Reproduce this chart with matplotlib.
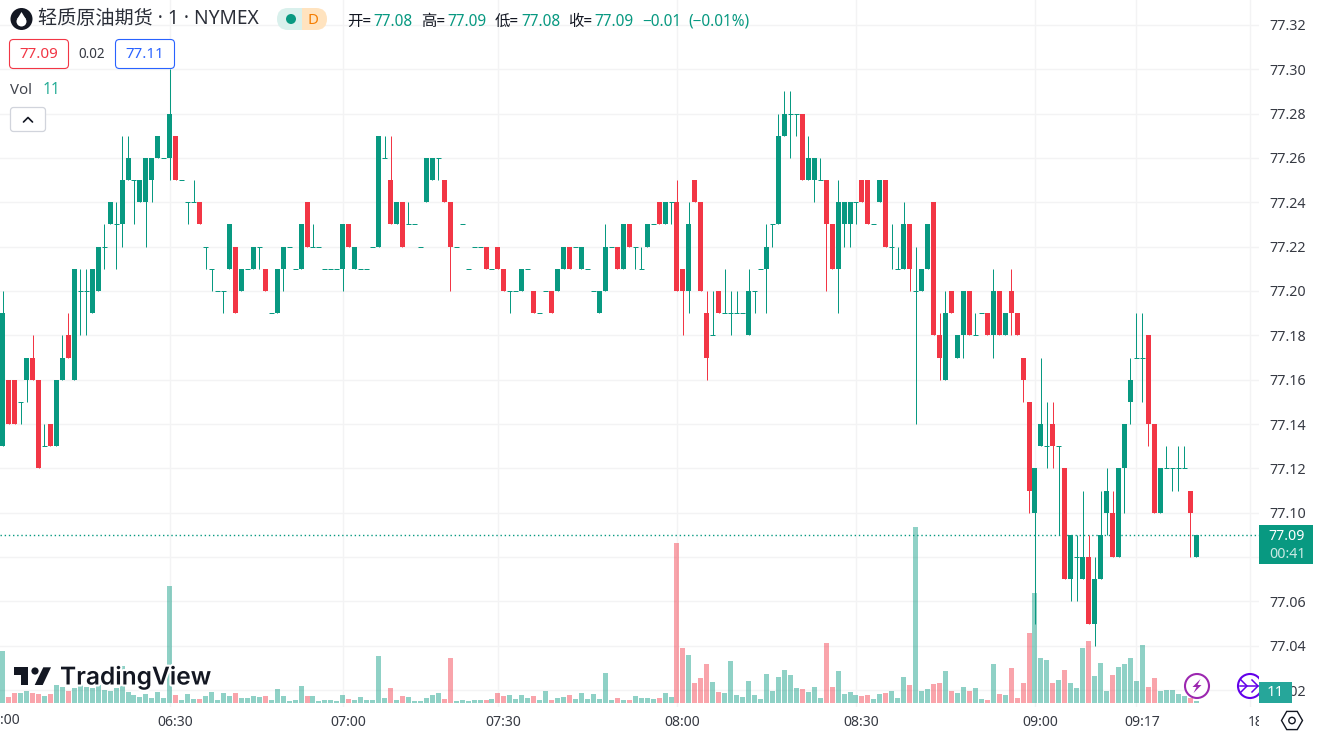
import matplotlib
matplotlib.use("Agg")
import matplotlib.pyplot as plt
import numpy as np
import matplotlib.patheffects as pe
from matplotlib.patches import Circle, FancyBboxPatch, Polygon, Rectangle, RegularPolygon
from matplotlib.transforms import Bbox, TransformedBbox, ScaledTranslation

plt.rcParams['font.family'] = ['Noto Sans', 'Noto Sans CJK SC', 'DejaVu Sans']

# Prices are given in hundredths above 77.00
BASE_PRICE = 77.0
opens_c = [
13,16,16,15,16,17,16,13,14,13, 16,18,16,20,20,19,20,22,23,23,
23,25,25,24,24,25,26,26,26,27, 25,24,24,24,22,21,20,20,21,22,
20,21,21,22,21,19,19,21,22,21, 21,24,22,22,21,21,21,21,23,21,
21,21,22,22,26,25,23,24,23,23, 22,24,25,26,25,24,22,23,21,22,
22,22,21,22,21,20,20,20,21,20, 19,20,20,20,21,22,22,21,21,20,
19,20,22,22,21,23,22,21,22,23, 24,23,24,24,21,20,25,24,19,18,
20,19,19,19,19,18,20,21,21,23, 23,27,28,28,28,25,25,25,25,23,
21,23,23,24,25,25,23,24,25,22, 21,21,23,20,20,21,24,18,16,20,
17,18,20,18,19,19,18,20,18,20, 19,17,15,10,13,13,14,13,12,7,
8,7,8,5,7,10,10,8,12,15, 17,17,18,14,10,12,12,12,12,11, 8]
highs_c = [
20,16,16,15,17,18,16,14,14,16, 18,19,21,21,21,21,22,23,24,24,
27,27,25,25,26,26,27,26,30,27, 25,24,25,24,22,21,20,20,23,22,
21,21,22,22,21,19,21,22,22,21, 23,24,23,22,21,21,21,23,23,22,
21,21,22,27,27,27,24,24,24,23, 22,26,26,26,25,24,22,23,21,22,
22,22,21,22,21,20,20,21,21,20, 19,20,20,21,22,22,22,22,21,20,
20,23,22,22,23,23,22,22,23,23, 24,24,24,25,21,24,25,24,20,20,
20,21,20,20,19,21,20,21,23,23, 28,29,29,28,28,27,26,26,25,23,
25,24,24,24,25,25,23,25,25,23, 22,24,23,22,21,23,24,19,20,20,
18,20,20,19,19,19,21,20,19,21, 19,17,15,12,17,15,15,13,12,9,
9,11,9,8,11,12,11,12,14,17, 19,19,18,14,12,13,12,13,13,11, 9]
lows_c = [
13,14,14,14,15,16,12,13,13,13, 16,17,16,18,18,19,20,21,23,21,
22,25,23,24,22,24,26,26,25,25, 25,23,24,23,21,20,20,19,21,19,
20,21,21,21,20,19,19,20,22,21, 21,22,22,22,21,21,21,20,22,21,
21,21,22,22,26,23,23,22,23,23, 22,24,25,25,24,20,22,23,21,22,
22,21,21,21,20,19,20,20,21,19, 19,20,19,20,21,21,22,21,21,20,
19,20,22,21,21,22,21,21,22,23, 23,23,23,20,18,19,24,20,16,18,
19,19,18,19,19,18,19,21,19,22, 23,27,26,27,25,25,24,25,20,21,
19,22,22,23,24,23,23,24,22,21, 21,21,20,14,20,21,18,16,16,19,
17,17,18,18,19,18,17,18,18,18, 18,15,10,5,13,12,12,9,7,6,
6,7,5,4,7,9,8,8,10,14, 17,15,13,10,10,12,11,11,12,8, 8]
closes_c = [
19,14,14,15,17,16,12,13,13,16, 17,17,21,20,20,21,22,22,24,23,
25,26,25,25,26,26,27,26,28,25, 25,24,24,23,22,21,20,20,23,19,
21,21,22,22,20,19,21,22,22,21, 23,22,22,22,21,21,21,23,22,22,
21,21,22,27,26,23,24,22,23,23, 22,26,26,26,24,22,22,23,21,22,
22,21,21,21,20,20,20,21,21,19, 19,20,19,21,22,21,22,22,21,20,
20,22,22,21,23,22,22,21,23,23, 23,24,24,20,20,23,24,20,17,18,
19,19,19,19,19,20,20,21,22,23, 27,28,28,28,25,26,26,25,23,21,
24,24,24,24,24,23,23,25,22,22, 21,23,21,20,21,23,18,17,19,19,
18,20,18,18,19,18,20,18,19,19, 18,16,11,12,14,13,13,13,7,9,
8,8,5,7,9,11,8,12,14,16, 17,17,14,10,12,12,12,12,12,10, 9]
volumes = [
310,34,58,58,70,58,52,40,52,106, 94,70,92,112,96,88,106,76,70,88,
220,64,46,34,52,28,64,28,700,46, 16,52,22,22,40,64,16,58,40,58,
28,28,40,34,40,16,82,40,10,16, 100,40,40,10,16,16,10,46,22,16,
34,16,16,280,28,88,16,40,34,10, 12,30,48,60,24,270,12,18,12,18,
18,18,24,60,42,48,24,48,30,42, 18,72,18,30,36,48,24,60,24,54,
24,180,18,30,18,18,42,30,30,24, 30,60,36,960,330,288,120,150,234,126,
66,60,252,48,36,132,48,24,174,72, 156,198,168,90,84,66,96,30,360,96,
192,54,66,48,42,48,24,54,60,72, 30,156,108,1056,72,84,114,120,192,72,
60,96,72,90,24,18,234,54,48,210, 30,120,420,660,270,258,120,138,198,120,
90,330,372,162,240,72,168,216,234,270, 132,348,96,150,72,78,78,54,42,30, 11]

price_ticks = [77.02,77.04,77.06,77.08,77.10,77.12,77.14,77.16,77.18,77.20,
               77.22,77.24,77.26,77.28,77.30,77.32]
time_tick_idx = [28, 57, 83, 113, 143, 173, 190, 209]
time_tick_lab = ['06:30', '07:00', '07:30', '08:00', '08:30', '09:00', '09:17', '18']
last_price = 77.09

GREEN, RED = '#089981', '#F23645'
GRID = '#f3f3f4'
INK = '#131722'
W, H = 1318, 733
AX_W, AX_H = 1259, 707
PX_STEP = 5.967
PX_X0 = 2.7
PX_PER_PRICE = 2217.0
Y_AT_7730 = 69.3
VOL_PX = 1 / 6.0   # pixels per contract
VOL_BASE_PX = 4    # gap below volume baseline

o = BASE_PRICE + np.array(opens_c) / 100
h = BASE_PRICE + np.array(highs_c) / 100
l = BASE_PRICE + np.array(lows_c) / 100
c = BASE_PRICE + np.array(closes_c) / 100
idx = np.arange(len(opens_c))
up = np.array(closes_c) >= np.array(opens_c)
cols = np.where(up, GREEN, RED)
doji = np.array(closes_c) == np.array(opens_c)

fig = plt.figure(figsize=(W / 100, H / 100), dpi=100, facecolor='white')
rect = [0, (H - AX_H) / H, AX_W / W, AX_H / H]
xlim = (-PX_X0 / PX_STEP, (AX_W - PX_X0) / PX_STEP)
ylim = (77.30 - (AX_H - Y_AT_7730) / PX_PER_PRICE, 77.30 + Y_AT_7730 / PX_PER_PRICE)
PX = 0.72

# Background: grid and tick labels
ag = fig.add_axes(rect, zorder=0)
ag.set_xlim(xlim); ag.set_ylim(ylim)
for s in ag.spines.values():
    s.set_visible(False)
ag.set_yticks(price_ticks)
ag.set_yticklabels([f'{p:.2f}' for p in price_ticks], fontsize=10.3, color=INK, alpha=0.85)
ag.yaxis.tick_right()
ag.tick_params(axis='y', length=0, pad=7.2)
ag.set_xticks(time_tick_idx)
ag.set_xticklabels(time_tick_lab, fontsize=10.1, color=INK, alpha=0.85)
ag.tick_params(axis='x', length=0, pad=5.5)
ag.grid(True, color=GRID, lw=1.0, zorder=0)
off = ScaledTranslation(5.5 / 100, 0, fig.dpi_scale_trans)
clip = TransformedBbox(Bbox([[0, 0], [AX_W / W, 1]]), fig.transFigure)
for t in ag.get_xticklabels():
    t.set_transform(t.get_transform() + off)
    t.set_clip_box(clip)
    t.set_clip_on(True)

# Volume
av = fig.add_axes(rect, zorder=1)
av.patch.set_alpha(0)
av.axis('off')
av.set_xlim(xlim)
av.set_ylim(-VOL_BASE_PX / VOL_PX, (AX_H - VOL_BASE_PX) / VOL_PX)
av.bar(idx, volumes, width=5 / PX_STEP, color=cols, alpha=0.45, linewidth=0)

# Candles
ax = fig.add_axes(rect, zorder=2)
ax.patch.set_alpha(0)
ax.axis('off')
ax.set_xlim(xlim); ax.set_ylim(ylim)
ax.axhline(last_price, color=GREEN, lw=1.0, ls=(0, (1, 2)), zorder=1)
ax.vlines(idx, l, h, colors=cols, lw=PX, zorder=2)
nd = ~doji
ax.bar(idx[nd], np.abs(c - o)[nd], bottom=np.minimum(o, c)[nd], width=5 / PX_STEP,
       color=cols[nd], linewidth=0, zorder=3)
ax.hlines(o[doji], idx[doji] - 2.5 / PX_STEP, idx[doji] + 2.5 / PX_STEP,
          colors=cols[doji], lw=PX, zorder=3)

# Overlay in pixel coordinates
ov = fig.add_axes([0, 0, 1, 1], zorder=5)
ov.patch.set_alpha(0)
ov.axis('off')
ov.set_xlim(0, W); ov.set_ylim(H, 0)


def txt(x, y, s, size, color=INK, ha='left', **kw):
    return ov.text(x, y, s, fontsize=size * 0.72, color=color, ha=ha, va='center', **kw)


def rbox(x0, y0, x1, y1, r, ec, fc='white', lw=0.8, **kw):
    p = FancyBboxPatch((x0, y0), x1 - x0, y1 - y0, boxstyle=f'round,pad=0,rounding_size={r}',
                       ec=ec, fc=fc, lw=lw, **kw)
    ov.add_patch(p)
    return p


# Left edge label of 06:00
txt(2.5, 720, '06:00', 14, ha='center', alpha=0.85)

# Header
ov.add_patch(Circle((21.5, 19), 11, fc=INK, ec='none'))
ov.add_patch(Circle((21.5, 21.5), 5, fc='white', ec='none'))
ov.add_patch(Polygon([(17.2, 19), (21.5, 12), (25.8, 19)], fc='white', ec='none'))
txt(38, 19.5, '轻质原油期货 · 1 · NYMEX', 19.2, alpha=0.9)

clipL = Rectangle((270, 0), 32, 40, transform=ov.transData)
clipR = Rectangle((302, 0), 32, 40, transform=ov.transData)
rbox(277, 8, 327, 30, 11, 'none', fc='#d9f0ec').set_clip_path(clipL)
rbox(277, 8, 327, 30, 11, 'none', fc='#ffe3bf').set_clip_path(clipR)
ov.add_patch(Circle((291, 19), 5, fc=GREEN, ec='none'))
txt(313, 20, 'D', 15, color='#f57c00', ha='center', fontweight='bold')

TEAL = '#089981'
for x, s, col in [(347, '开=', INK), (373, '77.08', TEAL), (421, '高=', INK), (447, '77.09', TEAL),
                  (495, '低=', INK), (521, '77.08', TEAL), (568, '收=', INK), (594, '77.09', TEAL),
                  (642, '−0.01', TEAL), (688, '(−0.01%)', TEAL)]:
    txt(x, 22, s, 15.4, color=col)

rbox(9.5, 39.5, 68.5, 68.5, 4, RED)
txt(39, 55, '77.09', 15.2, color=RED, ha='center')
txt(92, 55, '0.02', 13.5, ha='center', alpha=0.85)
rbox(115.5, 39.5, 174.5, 68.5, 4, '#2962ff')
txt(145, 55, '77.11', 15.2, color='#2962ff', ha='center')
txt(10, 90, 'Vol', 15, alpha=0.8)
txt(43, 90, '11', 15.5, color='#22ab94')
rbox(10.5, 107.5, 45.5, 131.5, 3, '#d1d4dc', lw=0.9)
ov.plot([23.5, 28, 32.5], [122, 117.5, 122], color=INK, lw=1.2, solid_capstyle='round')

# Watermark
ov.add_patch(Polygon([(14, 667.3), (28.3, 667.3), (28.3, 685), (21, 685), (21, 675), (14, 675)],
                     fc=INK, ec='none'))
ov.add_patch(Circle((35, 671), 3.6, fc=INK, ec='none'))
ov.add_patch(Polygon([(43.3, 667.3), (51, 667.3), (42.7, 685), (34.7, 685)], fc=INK, ec='none'))
wm = txt(60, 677, 'TradingView', 24.5, fontweight='semibold',
         fontfamily=['Inter', 'Noto Sans'])
wm.set_path_effects([pe.withStroke(linewidth=3, foreground='white')])

# Lightning icon
ov.add_patch(Circle((1197, 686), 12, fc='white', ec='#9c27b0', lw=1.5))
ov.add_patch(Polygon([(1200.5, 679), (1192.5, 687), (1196.5, 687), (1193.5, 693),
                      (1201.5, 685), (1197.5, 685)], fc='#9c27b0', ec='none'))
# Arrow icon, cut at the edge of the pane
pane = Rectangle((0, 0), AX_W, AX_H, transform=ov.transData)
cc = Circle((1250, 686), 12, fc='white', ec='#6200ea', lw=1.5)
ov.add_patch(cc); cc.set_clip_path(pane)
for xs, ys in [([1240, 1258], [686, 686]), ([1252, 1258, 1252], [680, 686, 692]),
               ([1241, 1247, 1241], [680, 686, 692])]:
    ln, = ov.plot(xs, ys, color='#6200ea', lw=1.1)
    ln.set_clip_path(pane)

# Price axis markers
ov.add_patch(Rectangle((1259, 682), 33, 21, fc='#26a69a', ec='none'))
txt(1275.5, 693, '11', 15, color='white', ha='center')
ov.add_patch(Rectangle((1259, 525), 54, 39, fc=GREEN, ec='none'))
txt(1287, 536, '77.09', 14.2, color='white', ha='center', fontweight='semibold')
txt(1287, 554, '00:41', 14.2, color='#c8e9e3', ha='center')

# Settings hexagon
ov.add_patch(RegularPolygon((1292, 720.5), 6, radius=10.5, orientation=np.pi / 6, fc='white', ec=INK, lw=1))
ov.add_patch(Circle((1292, 720.5), 3.2, fc='white', ec=INK, lw=1))

fig.savefig('out.png', dpi=100, facecolor='white')
